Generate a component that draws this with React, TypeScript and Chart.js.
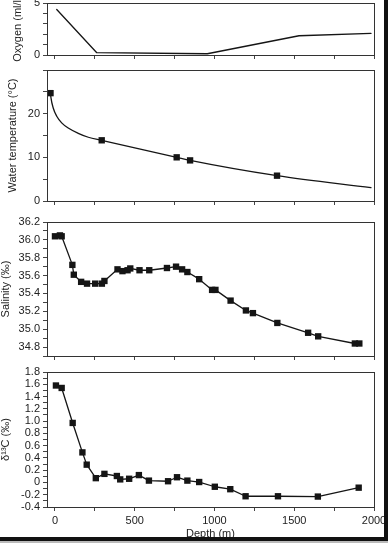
import React, { useEffect, useRef } from 'react';
import { Chart, registerables } from 'chart.js';

Chart.register(...registerables);
Chart.defaults.font.family = "'Liberation Sans', Arial, Helvetica, sans-serif";
Chart.defaults.font.size = 11;
Chart.defaults.color = '#222';

// ---- shared depth axis ----
const xTickValues = [0, 250, 500, 750, 1000, 1250, 1500, 1750, 2000];
const xTickLabels = ['0', '', '500', '', '1000', '', '1500', '', '2000'];

// ---- oxygen ----
const oxygenDepth = [11, 262, 955, 1530, 1981];
const oxygenValue = [4.37, 0.22, 0.12, 1.85, 2.07];
const oxygenTicks = [0, 1, 2, 3, 4, 5];
const oxygenTickLabels = ['0', '', '', '', '', '5'];

// ---- water temperature ----
const tempCurveDepth = [-28, -25, -11, 11, 42, 83, 146, 209, 293, 763, 847, 1392, 1981];
const tempCurveValue = [24.7, 23.6, 21.3, 19.4, 17.9, 16.7, 15.5, 14.6, 13.9, 10.0, 9.3, 5.8, 3.05];
const tempPointDepth = [-28, 293, 763, 847, 1392];
const tempPointValue = [24.7, 13.9, 10.0, 9.3, 5.8];
const tempTicks = [0, 5, 10, 15, 20, 25, 30];
const tempTickLabels = ['0', '', '10', '', '20', '', ''];

// ---- salinity ----
const salinityDepth = [0, 31, 42, 109, 118, 164, 201, 252, 294, 310, 392, 423, 455, 472, 530, 591, 702, 759, 797, 830, 904, 985, 1006, 1101, 1197, 1241, 1394, 1587, 1650, 1880, 1908];
const salinityValue = [36.04, 36.05, 36.04, 35.72, 35.61, 35.53, 35.51, 35.51, 35.51, 35.54, 35.67, 35.65, 35.66, 35.68, 35.66, 35.66, 35.685, 35.70, 35.67, 35.64, 35.56, 35.44, 35.44, 35.32, 35.21, 35.18, 35.07, 34.96, 34.92, 34.84, 34.84];
const salinityTicks = [34.7, 34.8, 34.9, 35.0, 35.1, 35.2, 35.3, 35.4, 35.5, 35.6, 35.7, 35.8, 35.9, 36.0, 36.1, 36.2];
const salinityTickLabels = ['', '34.8', '', '35.0', '', '35.2', '', '35.4', '', '35.6', '', '35.8', '', '36.0', '', '36.2'];

// ---- delta 13C ----
const d13cDepth = [6, 42, 111, 172, 199, 256, 310, 388, 409, 465, 526, 589, 709, 765, 830, 904, 1002, 1099, 1195, 1398, 1648, 1904];
const d13cValue = [1.58, 1.54, 0.97, 0.49, 0.29, 0.07, 0.14, 0.105, 0.05, 0.06, 0.12, 0.03, 0.02, 0.085, 0.03, 0.007, -0.07, -0.11, -0.225, -0.225, -0.23, -0.085];
const d13cTicks = [-0.4, -0.3, -0.2, -0.1, 0, 0.1, 0.2, 0.3, 0.4, 0.5, 0.6, 0.7, 0.8, 0.9, 1.0, 1.1, 1.2, 1.3, 1.4, 1.5, 1.6, 1.7, 1.8];
const d13cTickLabels = ['-0.4', '', '-0.2', '', '0', '', '0.2', '', '0.4', '', '0.6', '', '0.8', '', '1.0', '', '1.2', '', '1.4', '', '1.6', '', '1.8'];

const pts = (xs: number[], ys: number[]) => xs.map((x, i) => ({ x, y: ys[i] }));

const INK = '#151515';

const boxPlugin = {
  id: 'plotBox',
  afterDatasetsDraw(chart: any) {
    const { ctx, chartArea: a } = chart;
    ctx.save();
    ctx.strokeStyle = '#333';
    ctx.lineWidth = 1;
    const l = Math.round(a.left) + 0.5;
    const t = Math.round(a.top) + 0.5;
    const r = Math.round(a.right) + 0.5;
    const b = Math.round(a.bottom) + 0.5;
    ctx.strokeRect(l, t, r - l, b - t);
    ctx.restore();
  },
};

type PanelCfg = {
  top: number;
  height: number;
  padTop: number;
  xHeight: number;
  yMin: number;
  yMax: number;
  yTicks: number[];
  yLabels: string[];
  title: string;
  titlePad: number;
  titleLineHeight: number;
  datasets: any[];
  showX: boolean;
};

const lineDs = (data: any[], markers: boolean, smooth = false, showLine = true) => ({
  data,
  showLine,
  borderColor: INK,
  backgroundColor: INK,
  borderWidth: 1.3,
  pointStyle: 'rect',
  pointRadius: markers ? 4.5 : 0,
  pointBorderWidth: 0,
  pointBackgroundColor: INK,
  cubicInterpolationMode: smooth ? 'monotone' : 'default',
  tension: 0,
});

// plot areas (page px): oxygen 3-55, temperature 70-201, salinity 222-356, d13C 372-507
const panels: PanelCfg[] = [
  {
    top: -11, height: 80, padTop: 14, xHeight: 14,
    yMin: 0, yMax: 5, yTicks: oxygenTicks, yLabels: oxygenTickLabels,
    title: 'Oxygen (ml/l)', titlePad: 11.4, titleLineHeight: 1.2,
    datasets: [lineDs(pts(oxygenDepth, oxygenValue), false)],
    showX: false,
  },
  {
    top: 56, height: 159, padTop: 14, xHeight: 14,
    yMin: 0, yMax: 30, yTicks: tempTicks, yLabels: tempTickLabels,
    title: 'Water temperature (°C)', titlePad: 6.4, titleLineHeight: 1.2,
    datasets: [
      lineDs(pts(tempCurveDepth, tempCurveValue), false, true),
      lineDs(pts(tempPointDepth, tempPointValue), true, false, false),
    ],
    showX: false,
  },
  {
    top: 208, height: 162, padTop: 14, xHeight: 14,
    yMin: 34.7, yMax: 36.2, yTicks: salinityTicks, yLabels: salinityTickLabels,
    title: 'Salinity (‰)', titlePad: 0, titleLineHeight: 1,
    datasets: [lineDs(pts(salinityDepth, salinityValue), true)],
    showX: false,
  },
  {
    top: 358, height: 185, padTop: 14, xHeight: 36,
    yMin: -0.4, yMax: 1.8, yTicks: d13cTicks, yLabels: d13cTickLabels,
    title: 'δ¹³C (‰)', titlePad: 0, titleLineHeight: 1,
    datasets: [lineDs(pts(d13cDepth, d13cValue), true)],
    showX: true,
  },
];

function Panel({ cfg }: { cfg: PanelCfg }) {
  const ref = useRef<HTMLCanvasElement | null>(null);
  useEffect(() => {
    if (!ref.current) return;
    const chart = new Chart(ref.current, {
      type: 'line',
      data: { datasets: cfg.datasets },
      plugins: [boxPlugin],
      options: {
        animation: false,
        responsive: false,
        devicePixelRatio: 1,
        layout: { padding: { top: cfg.padTop, bottom: 0, left: 0, right: 46 } },
        plugins: { legend: { display: false }, tooltip: { enabled: false } },
        elements: { line: { borderCapStyle: 'round', borderJoinStyle: 'round' } },
        scales: {
          x: {
            type: 'linear',
            min: -50,
            max: 2000,
            afterBuildTicks: (s: any) => {
              s.ticks = xTickValues.map((v) => ({ value: v }));
            },
            afterFit: (s: any) => {
              s.height = cfg.xHeight;
            },
            ticks: {
              display: cfg.showX,
              autoSkip: false,
              maxRotation: 0,
              padding: 3,
              color: '#222',
              font: { size: 11 },
              callback: (_v: any, i: number) => xTickLabels[i],
            },
            grid: {
              display: true,
              drawOnChartArea: false,
              drawTicks: true,
              tickLength: 4,
              color: '#444',
              lineWidth: 1,
            },
            border: { display: false },
            title: {
              display: cfg.showX,
              text: 'Depth (m)',
              color: '#222',
              font: { size: 11 },
              padding: { top: 0, bottom: 2 },
            },
          },
          y: {
            type: 'linear',
            min: cfg.yMin,
            max: cfg.yMax,
            afterBuildTicks: (s: any) => {
              s.ticks = cfg.yTicks.map((v) => ({ value: v }));
            },
            afterFit: (s: any) => {
              s.width = 47;
            },
            ticks: {
              autoSkip: false,
              padding: 3,
              color: '#222',
              font: { size: 11 },
              callback: (_v: any, i: number) => cfg.yLabels[i],
            },
            grid: {
              display: true,
              drawOnChartArea: false,
              drawTicks: true,
              tickLength: 4,
              color: '#444',
              lineWidth: 1,
            },
            border: { display: false },
            title: {
              display: true,
              text: cfg.title,
              color: '#222',
              font: { size: 11, lineHeight: cfg.titleLineHeight },
              padding: { top: cfg.titlePad, bottom: 0 },
            },
          },
        },
      } as any,
    });
    return () => chart.destroy();
  }, [cfg]);
  return (
    <canvas
      ref={ref}
      width={420}
      height={cfg.height}
      style={{ position: 'absolute', left: 0, top: cfg.top, width: 420, height: cfg.height }}
    />
  );
}

export default function App() {
  return (
    <div
      style={{
        position: 'fixed',
        left: 0,
        top: 0,
        width: 388,
        height: 543,
        overflow: 'hidden',
        background: '#fff',
      }}
    >
      {panels.map((p, i) => (
        <Panel key={i} cfg={p} />
      ))}
      <div style={{ position: 'absolute', left: 384, top: 0, width: 4, height: 543, background: '#111' }} />
      <div style={{ position: 'absolute', left: 0, top: 537, width: 388, height: 4, background: '#111' }} />
      <div style={{ position: 'absolute', left: 0, top: 541, width: 388, height: 2, background: '#bbb' }} />
    </div>
  );
}
